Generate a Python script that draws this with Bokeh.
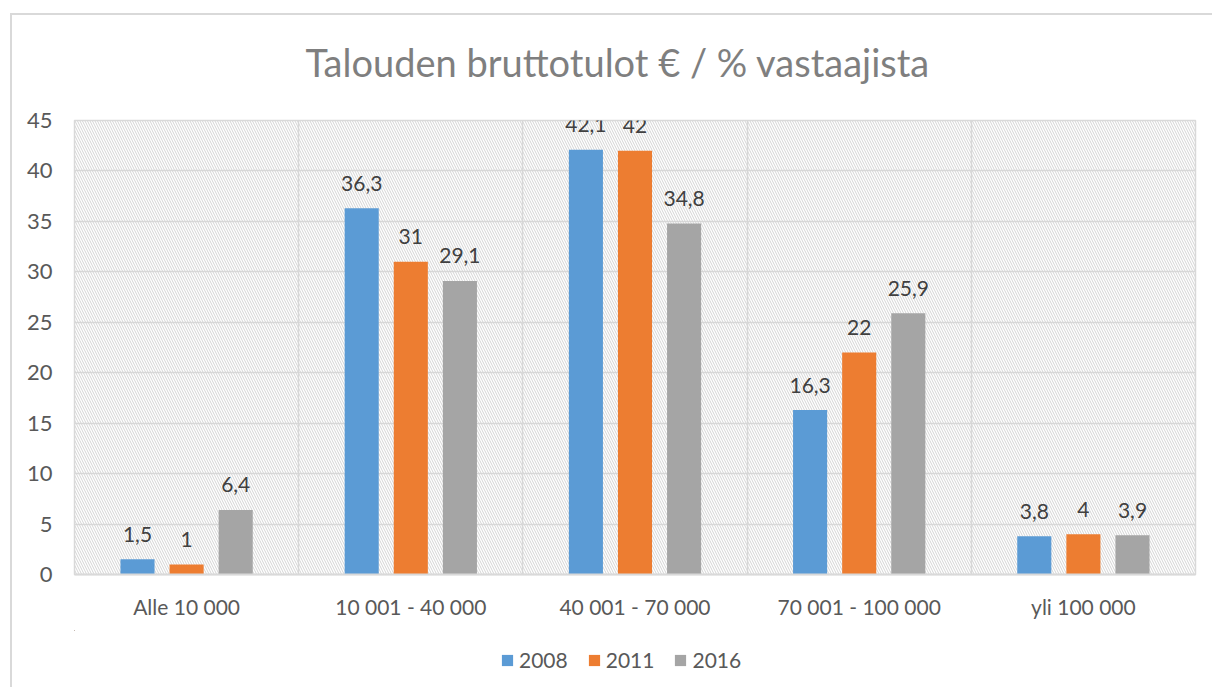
from bokeh.plotting import figure
from bokeh.models import (ColumnDataSource, FixedTicker, BoxAnnotation, Legend, LegendItem, Title)
from bokeh.core.properties import value
from bokeh.transform import dodge
from bokeh.layouts import column
from bokeh.embed import file_html
from bokeh.resources import INLINE

categories = ["Alle 10 000", "10 001 - 40 000", "40 001 - 70 000", "70 001 - 100 000", "yli 100 000"]
series_names = ["2008", "2011", "2016"]
v2008 = [1.5, 36.3, 42.1, 16.3, 3.8]
v2011 = [1, 31, 42, 22, 4]
v2016 = [6.4, 29.1, 34.8, 25.9, 3.9]
y_ticks = [0, 5, 10, 15, 20, 25, 30, 35, 40, 45]
colors = ["#5B9BD5", "#ED7D31", "#A5A5A5"]

FONT = "Lato"
xpos = [i + 0.5 for i in range(len(categories))]

def fmt(v):
    return f"{v:g}".replace(".", ",")

W = 1212
p = figure(width=W, height=630, output_backend="svg", toolbar_location=None,
           x_range=(0, len(categories)), y_range=(0, 45),
           min_border_left=74, min_border_right=17, min_border_top=119, min_border_bottom=56)
p.border_fill_color = None
p.background_fill_color = "white"
p.outline_line_color = "#d9d9d9"
p.outline_line_width = 1.5

p.add_layout(BoxAnnotation(fill_alpha=0, line_alpha=0, hatch_pattern="\\", hatch_color="#d4d4d4",
                           hatch_scale=5, hatch_weight=1, level="underlay"))

title = Title(text="Talouden bruttotulot € / % vastaajista", align="left", offset=231,
              text_font=FONT, text_font_size="38px", text_font_style="normal",
              text_color="#7f7f7f", standoff=72)
p.add_layout(title, "above")

# legend strip below the chart (its bars lie outside its visible ranges)
lf = figure(width=W, height=57, output_backend="svg", toolbar_location=None,
            x_range=(100, 101), y_range=(-10, -9), min_border=0)
lf.border_fill_color = None
lf.background_fill_color = None
lf.outline_line_color = None
lf.axis.visible = False
lf.grid.visible = False

offsets = [-0.219, 0.0, 0.219]
series = [v2008, v2011, v2016]
items = []
for name, vals, off, col in zip(series_names, series, offsets, colors):
    src = ColumnDataSource(dict(x=xpos, top=vals, lab=[fmt(v) for v in vals]))
    p.vbar(x=dodge("x", off), top="top", bottom=0, width=0.152, source=src,
           fill_color=col, line_color=None)
    p.text(x=dodge("x", off), y="top", text="lab", source=src, text_align="center",
           text_baseline="alphabetic", y_offset=-25, text_font=value(FONT),
           text_font_size="21px", text_color="#404040")
    lr = lf.vbar(x=dodge("x", off), top="top", bottom=0, width=0.152, source=src,
                 fill_color=col, line_color=None)
    items.append(LegendItem(label=name, renderers=[lr]))

p.xaxis.ticker = FixedTicker(ticks=xpos)
p.xaxis.major_label_overrides = {x: c for x, c in zip(xpos, categories)}
p.yaxis.ticker = FixedTicker(ticks=y_ticks)
p.xgrid.ticker = FixedTicker(ticks=list(range(len(categories) + 1)))
for g in (p.xgrid, p.ygrid):
    g.grid_line_color = "#d9d9d9"
    g.grid_line_width = 1.5
for ax in (p.xaxis, p.yaxis):
    ax.major_tick_line_color = None
    ax.minor_tick_line_color = None
    ax.major_label_text_font = FONT
    ax.major_label_text_font_size = "21px"
    ax.major_label_text_color = "#595959"
p.yaxis.major_label_text_font_size = "22px"
p.xaxis.axis_line_color = "#d9d9d9"
p.xaxis.axis_line_width = 2
p.yaxis.axis_line_color = None
p.yaxis.major_label_standoff = 16
p.xaxis.major_label_standoff = 13

legend = Legend(items=items, orientation="horizontal", location=(426, 15),
                label_text_font=FONT, label_text_font_size="21px", label_text_color="#595959",
                glyph_width=14, glyph_height=14, label_standoff=5, spacing=19,
                border_line_color=None, background_fill_alpha=0, margin=0, padding=5)
lf.add_layout(legend, "center")

layout = column(p, lf, spacing=0)
layout.styles = {
    "background": "linear-gradient(#d9d9d9,#d9d9d9) 10px 13px / 100% 2px no-repeat, "
                  "linear-gradient(#d9d9d9,#d9d9d9) 10px 13px / 2px 100% no-repeat, white"
}

open("out.html", "w").write(file_html(layout, INLINE))
